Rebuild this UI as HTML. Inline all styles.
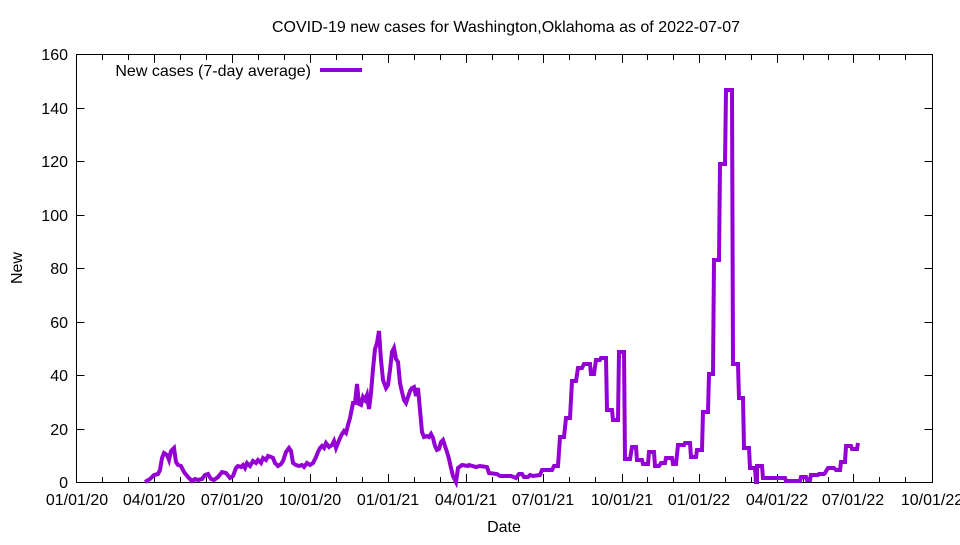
<!DOCTYPE html>
<html><head><meta charset="utf-8"><style>
html,body{margin:0;padding:0;background:#fff;}
svg text{font-family:"Liberation Sans",Arial,sans-serif;font-size:16px;fill:#000;}
</style></head><body>
<svg width="960" height="540" viewBox="0 0 960 540" xmlns="http://www.w3.org/2000/svg">
<rect width="960" height="540" fill="#fff"/>
<text x="506" y="32" text-anchor="middle">COVID-19 new cases for Washington,Oklahoma as of 2022-07-07</text>
<g stroke="#000" stroke-width="1" fill="none">
<rect x="76.5" y="54.5" width="856" height="428"/>
<path d="M76.5 429.5h8M76.5 375.5h8M76.5 322.5h8M76.5 268.5h8M76.5 215.5h8M76.5 161.5h8M76.5 108.5h8M932.5 429.5h-8M932.5 375.5h-8M932.5 322.5h-8M932.5 268.5h-8M932.5 215.5h-8M932.5 161.5h-8M932.5 108.5h-8"/>
<path d="M102.5 482v-5M128.5 482v-5M154.5 482v-8M180.5 482v-5M206.5 482v-5M232.5 482v-8M258.5 482v-5M284.5 482v-5M310.5 482v-8M336.5 482v-5M362.5 482v-5M388.5 482v-8M414.5 482v-5M440.5 482v-5M466.5 482v-8M492.5 482v-5M518.5 482v-5M543.5 482v-8M569.5 482v-5M595.5 482v-5M622.5 482v-8M647.5 482v-5M673.5 482v-5M699.5 482v-8M725.5 482v-5M751.5 482v-5M777.5 482v-8M803.5 482v-5M828.5 482v-5M853.5 482v-8M879.5 482v-5M905.5 482v-5"/>
<path d="M102.5 55v5M128.5 55v5M154.5 55v8M180.5 55v5M206.5 55v5M232.5 55v8M258.5 55v5M284.5 55v5M310.5 55v8M336.5 55v5M362.5 55v5M388.5 55v8M414.5 55v5M440.5 55v5M466.5 55v8M492.5 55v5M518.5 55v5M543.5 55v8M569.5 55v5M595.5 55v5M622.5 55v8M647.5 55v5M673.5 55v5M699.5 55v8M725.5 55v5M751.5 55v5M777.5 55v8M803.5 55v5M828.5 55v5M853.5 55v8M879.5 55v5M905.5 55v5"/>
</g>
<g text-anchor="end">
<text x="68" y="488">0</text><text x="68" y="435">20</text><text x="68" y="381">40</text><text x="68" y="328">60</text><text x="68" y="274">80</text><text x="68" y="221">100</text><text x="68" y="167">120</text><text x="68" y="114">140</text><text x="68" y="60">160</text>
</g>
<g text-anchor="middle">
<text x="77" y="505">01/01/20</text><text x="154" y="505">04/01/20</text><text x="232" y="505">07/01/20</text><text x="310" y="505">10/01/20</text><text x="388" y="505">01/01/21</text><text x="466" y="505">04/01/21</text><text x="543" y="505">07/01/21</text><text x="622" y="505">10/01/21</text><text x="699" y="505">01/01/22</text><text x="777" y="505">04/01/22</text><text x="853" y="505">07/01/22</text><text x="932" y="505">10/01/22</text>
<text x="504" y="532">Date</text>
<text x="22" y="268" transform="rotate(-90 22 268)">New</text>
</g>
<text x="311" y="76" text-anchor="end">New cases (7-day average)</text>
<line x1="320" y1="70" x2="362" y2="70" stroke="#9400d3" stroke-width="4"/>
<polyline fill="none" stroke="#9400d3" stroke-width="4" stroke-linejoin="miter" points="145,482 150,479 154,475 158,474 160,470 162,458 164,453 167,455 169,460 171,451 174,448 176,462 178,465 181,466 184,472 188,477 192,481 195,479 198,480 202,479 205,475 208,474 211,479 214,480 218,477 222,472 226,473 230,478 233,476 236,468 238,466 241,467 243,465 245,468 247,463 250,466 253,461 256,463 258,460 261,463 263,458 266,460 268,456 271,457 273,458 275,463 278,466 281,464 283,461 286,452 289,448 291,451 293,463 296,465 299,466 302,465 304,467 307,463 310,465 313,463 316,457 318,452 320,448 322,446 324,448 326,443 329,447 332,445 334,441 336,448 338,443 340,438 342,434 344,431 346,433 348,425 350,418 353,403 355,403 357,384 359,404 361,405 363,397 365,400 367,395 369,409 371,393 373,369 375,349 377,343 379,331 381,360 383,380 386,388 388,385 390,370 392,352 394,348 396,359 398,362 400,383 402,392 404,400 406,403 408,397 410,391 412,388 414,387 416,396 418,388 420,410 422,432 424,437 427,436 429,437 431,434 433,438 435,446 437,450 439,449 441,442 443,440 445,446 447,452 449,459 451,468 453,476 456,482 458,468 462,465 468,466 469,465 476,467 480,466 487,467 489,473 497,474 500,476 511,476 516,478 519,474 522,474 524,477 528,477 530,475 533,476 540,475 542,470 552,470 554,466 558,466 560,437 564,437 566,418 570,418 572,381 576,381 578,368 582,368 584,364 590,364 591,374 594,374 596,360 600,360 601,358 606,358 607,410 612,410 613,420 618,420 619,352 624,352 625,459 630,459 632,447 636,447 637,460 642,460 643,464 648,464 649,452 654,452 655,466 659,466 661,463 665,463 666,458 672,458 673,464 676,464 678,445 684,445 685,443 690,443 691,457 696,457 697,450 702,450 703,412 708,412 709,374 713,374 714,260 719,260 720,164 725,164 726,90 732,90 733,364 738,364 739,398 743,398 744,448 749,448 750,468 755,468 756,482 757,482 757,466 762,466 763,478 785,478 786,481 800,481 801,477 806,477 807,480 810,480 811,475 818,475 819,474 824,474 825,473 828,468 834,468 836,470 840,470 841,462 845,462 846,446 851,446 852,449 857,449 858,443"/>
</svg>
</body></html>
